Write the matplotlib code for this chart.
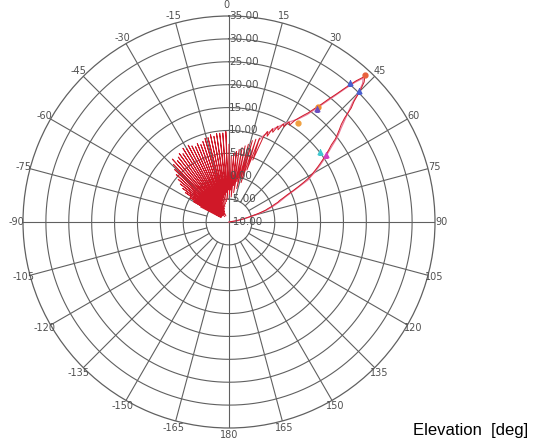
import numpy as np
import matplotlib
matplotlib.use('Agg')
import matplotlib.pyplot as plt

# elevation angle [deg] and level of the main (red) trace
red_ang = [-62, -61, -60, -59, -58, -57, -56, -55, -54, -53, -52, -51, -50, -49,
           -48, -47, -46, -45, -44, -43, -42, -41, -40, -39, -38, -37, -36, -35,
           -34, -33, -32, -31, -30, -29, -28, -27, -26, -25, -24, -23, -22, -21,
           -20, -19, -18, -17, -16, -15, -14, -13, -12, -11, -10, -9, -8, -7,
           -6, -5, -4, -3, -2, -1, 0, 1, 2, 3, 4, 5, 6, 7, 8, 9, 10, 11, 12, 13,
           14, 15, 16, 17, 18, 19, 20, 21, 22, 23, 24, 25, 26, 27, 28, 29, 30,
           31, 32, 33, 34, 35, 36, 37, 38, 39, 40, 41, 42, 43, 44, 45, 46, 47,
           48, 49, 50, 51, 52, 53, 54, 55, 56, 57, 58, 59, 60, 61, 62, 63, 64,
           65, 66, 67, 68, 69, 70, 71, 72, 73, 74, 75, 76, 78, 80, 85]
red_val = [-3, -8, -1, -7.5, 0, -8, 1.5, -7, 2.5, -8, 3.5, -7.5, 4.5, -8,
           5.5, -7, 6.5, -8, 7.5, -7.5, 8.5, -6, 7.5, -8.5, 8, -7, 8.5, -8,
           8, -6.5, 9, -8, 8.5, -7, 9, -8.5, 8.5, -6, 8, -7.5, 8.5, -5.5,
           8, -7, 8.5, -5, 9, -6.5, 9, -4.5, 9.5, -6, 9, -4, 9.5, -5.5,
           9.5, -3.5, 9.5, -5, 9.8, -3, 7, -4, 4.5, -3, 5, -4.5, 5.5, -2, 6, -3.5, 6.5, -1, 7, -2.5,
           7.5, 0, 8.5, -1, 9, 2, 9.5, 4.5, 10, 11.5, 10.5, 12.5, 11.8, 13.5, 12.8, 14.5, 14,
           15.5, 15, 16.5, 17.5, 18.5, 19.5, 21, 22.5, 24.5, 26.5, 29, 31.5, 33.5, 32.5, 30.5, 28, 26.5,
           24, 22.5, 21.5, 20.5, 19.5, 18, 17, 16, 15, 14, 13, 12, 11, 10, 8.5, 7, 5.5,
           4, 3, 2, 1.5, 0.5, 0, -1, -1.5, -2.5, -3.5, -4.5, -5.5, -7, -8.5, -10]

# second (pink) trace, main lobe
pink_ang = [20, 22, 24, 26, 28, 30, 32, 34, 36, 38, 40, 41, 42, 43, 44, 45, 46,
            48, 50, 52, 54, 56, 58, 60, 62, 64, 66, 68, 70, 72, 74, 76, 78, 82, 88]
pink_val = [9, 10.5, 11.5, 12.8, 13.8, 15, 16, 17.2, 19, 22, 26, 28.5, 31, 33, 32, 30, 27.5,
            24.5, 22, 20, 17.5, 15.5, 13.5, 11.5, 9.5, 6, 3.5, 2, 0.5, -1, -3, -5, -6.5, -8.5, -10]

# markers on the lobe
mk_ang = [42.8, 41.0, 44.8, 37.7, 37.9, 34.9, 52.4, 55.5]
mk_val = [33.7, 30.2, 30.3, 21.7, 21.2, 16.4, 15.1, 15.8]
mk_sym = ['o', '^', '^', 'o', '^', 'o', '^', '^']
mk_col = ['#e8603c', '#4a5fd0', '#4a5fd0', '#f08a30', '#6a4fc0', '#f0a040', '#40c8d0', '#d040c0']

r_ticks = list(range(-10, 36, 5))
theta_ticks = list(range(-165, 181, 15))

grid_col = '#606060'
txt_col = '#505050'

fig = plt.figure(figsize=(5.34, 4.41), dpi=100)
ax = fig.add_axes([23 / 534, 13 / 441, 412 / 534, 412 / 441], projection='polar')
ax.set_theta_zero_location('N')
ax.set_theta_direction(-1)
ax.set_rlim(-10, 35)
ax.grid(False)
ax.set_xticks([])
ax.set_yticks([])
ax.spines['polar'].set_color(grid_col)
ax.spines['polar'].set_linewidth(0.9)

# rings and spokes
full = np.linspace(0, 2 * np.pi, 721)
for r in r_ticks[1:-1]:
    ax.plot(full, [r] * len(full), color=grid_col, lw=0.8, zorder=1)
for a in theta_ticks:
    r0 = -10 if a % 90 == 0 else -5
    ax.plot([np.radians(a)] * 2, [r0, 35], color=grid_col, lw=0.8, zorder=1)

# angle labels
for a in theta_ticks:
    rr = 37.3 if a == 0 else 36.5
    ax.text(np.radians(a), rr, str(a), ha='right' if a == 0 else 'center',
            va='center', fontsize=7, color=txt_col, clip_on=False)
# level labels along 0 deg
for v in r_ticks:
    ax.text(0, v, f'{v:.2f}', ha='left', va='center', fontsize=7.5,
            color=txt_col, zorder=5)

ax.plot(np.radians(pink_ang), pink_val, color='#e87a9a', lw=0.9, zorder=3)
ax.plot(np.radians(red_ang), red_val, color='#d01828', lw=0.7, zorder=4)
for a, v, s, c in zip(mk_ang, mk_val, mk_sym, mk_col):
    ax.plot(np.radians(a), v, marker=s, color=c, ms=3.5, ls='none', zorder=6)

fig.text(413 / 534, 1 - 431 / 441, 'Elevation  [deg]', fontsize=12,
         family=['Liberation Sans', 'DejaVu Sans'], ha='left', va='center')

fig.savefig('out.png', dpi=100)
